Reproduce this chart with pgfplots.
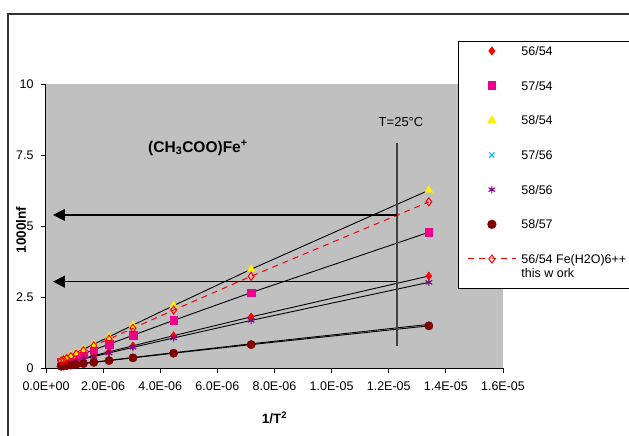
\documentclass[border=0pt]{standalone}
\usepackage{fontspec}
\setmainfont{Liberation Sans}
\usepackage{pgfplots}
\usepackage{pgfplotstable}
\pgfplotsset{compat=1.18}
\usetikzlibrary{arrows.meta}
\definecolor{bgray}{HTML}{C0C0C0}
\definecolor{dkred}{HTML}{800000}
\definecolor{purp}{HTML}{800080}

\pgfplotstableread{
x          a      b      c      d      e      f      g
5.303e-7   0.138  0.203  0.266  0.065  0.128  0.063  0.25
6.169e-7   0.161  0.237  0.310  0.076  0.149  0.074  0.29
7.266e-7   0.189  0.279  0.365  0.090  0.176  0.087  0.34
8.683e-7   0.225  0.332  0.435  0.107  0.210  0.103  0.40
1.0559e-6  0.274  0.404  0.529  0.130  0.255  0.125  0.49
1.3117e-6  0.340  0.502  0.657  0.161  0.317  0.156  0.61
1.6729e-6  0.433  0.638  0.836  0.205  0.403  0.198  0.78
2.2069e-6  0.569  0.839  1.099  0.270  0.530  0.261  1.02
3.0441e-6  0.781  1.152  1.509  0.370  0.727  0.358  1.40
4.4669e-6  1.137  1.677  2.197  0.539  1.059  0.521  2.04
7.1817e-6  1.800  2.655  3.478  0.853  1.676  0.824  3.23
1.3403e-5  3.240  4.779  6.260  1.536  3.016  1.484  5.85
}\data

\begin{document}
\begin{tikzpicture}
\fill[white] (0bp,0bp) rectangle (629bp,-436bp);
\useasboundingbox (0bp,0bp) rectangle (629bp,-436bp);
\draw[line width=1.2bp, black!80] (8bp,-440bp) -- (8bp,-14bp) -- (640bp,-14bp);
\begin{axis}[
  at={(46bp,-368bp)}, anchor=south west,
  scale only axis, width=457bp, height=284bp,
  xmin=0, xmax=1.6e-5, ymin=0, ymax=10,
  axis x line*=bottom, axis y line*=left,
  axis line style={line width=1bp, black},
  axis background/.style={fill=bgray},
  scaled x ticks=false, scaled y ticks=false,
  xtick={0,2e-6,4e-6,6e-6,8e-6,1e-5,1.2e-5,1.4e-5,1.6e-5},
  xticklabels={0.0E+00,2.0E-06,4.0E-06,6.0E-06,8.0E-06,1.0E-05,1.2E-05,1.4E-05,1.6E-05},
  ytick={0,2.5,5,7.5,10},
  yticklabels={0,2.5,5,7.5,10},
  tick align=outside, major tick length=5bp,
  tick style={black, line width=0.8bp},
  /pgf/number format/assume math mode=true,
  tick label style={font=\fontsize{12.5bp}{15bp}\selectfont},
  xticklabel style={yshift=-5bp},
  yticklabel style={xshift=-4bp},
  xlabel={\bfseries 1/T\textsuperscript{2}},
  ylabel={\bfseries 1000lnf},
  label style={font=\fontsize{13.5bp}{16bp}\selectfont},
  x label style={at={(axis description cs:0.5,-0.176)}, anchor=center},
  y label style={at={(axis description cs:-0.0547,0.486)}, anchor=center},
  legend image code/.code={\draw[mark repeat=2,mark phase=2,#1] plot coordinates {(0bp,4.5bp)(24bp,4.5bp)(48bp,4.5bp)};},
  legend style={at={(0.9015,1.1514)}, anchor=north west, draw=black, line width=0.8bp, fill=white,
    font=\fontsize{12.5bp}{15bp}\selectfont,
    cells={anchor=base west}, nodes={inner sep=0pt, text depth=, text height=},
    row sep={34.67bp,between origins}, column sep=5bp,
    inner xsep=9bp, inner ysep=5bp},
]
% series markers
\addplot[only marks, mark=diamond*, mark size=4bp, draw=red, fill=red] table[x=x,y=a] {\data};
\addlegendentry{56/54}
\addplot[only marks, mark=square*, mark size=3.8bp, draw=magenta, fill=magenta] table[x=x,y=b] {\data};
\addlegendentry{57/54}
\addplot[only marks, mark=triangle*, mark size=4.5bp, draw=yellow, fill=yellow] table[x=x,y=c] {\data};
\addlegendentry{58/54}
\addplot[only marks, mark=x, mark size=3.6bp, draw=cyan, line width=1.1bp] table[x=x,y=d] {\data};
\addlegendentry{57/56}
\addplot[only marks, mark=asterisk, mark size=3.8bp, draw=purp, line width=1.1bp] table[x=x,y=e] {\data};
\addlegendentry{58/56}
\addplot[only marks, mark=*, mark size=4.2bp, draw=dkred, fill=dkred] table[x=x,y=f] {\data};
\addlegendentry{58/57}
% black trend lines
\addplot[forget plot, black, line width=0.9bp] table[x=x,y=a] {\data};
\addplot[forget plot, black, line width=0.9bp] table[x=x,y=b] {\data};
\addplot[forget plot, black, line width=0.9bp] table[x=x,y=c] {\data};
\addplot[forget plot, black, line width=0.9bp] table[x=x,y=d] {\data};
\addplot[forget plot, black, line width=0.9bp] table[x=x,y=e] {\data};
\addplot[forget plot, black, line width=0.9bp] table[x=x,y=f] {\data};
% Fe(H2O)6
\addplot[red, line width=1bp, dash pattern=on 6bp off 5bp, mark=diamond, mark size=4bp,
  mark options={solid, draw=red, line width=1bp}] table[x=x,y=g] {\data};
\addlegendentry{\begin{tabular}[t]{@{}l@{}}56/54 Fe(H2O)6++\\[-0.5bp]this w ork\rule[-5bp]{0pt}{0pt}\end{tabular}}
% annotations
\draw[line width=1.5bp, black!75] (axis cs:12.29e-6,7.92) -- (axis cs:12.29e-6,0.77);
\draw[line width=1.3bp, black, -{Triangle[length=12bp,width=12bp]}] (axis cs:12.29e-6,5.39) -- (axis cs:0.245e-6,5.39);
\draw[line width=1.3bp, black, -{Triangle[length=12bp,width=12bp]}] (axis cs:12.29e-6,3.04) -- (axis cs:0.245e-6,3.04);
\node[font=\fontsize{15.5bp}{18bp}\selectfont\bfseries] at (axis cs:5.32e-6,7.75) {(CH\textsubscript{3}COO)Fe\textsuperscript{+}};
\node[font=\fontsize{13bp}{15bp}\selectfont] at (axis cs:12.43e-6,8.66) {T=25°C};
\end{axis}
\end{tikzpicture}
\end{document}
